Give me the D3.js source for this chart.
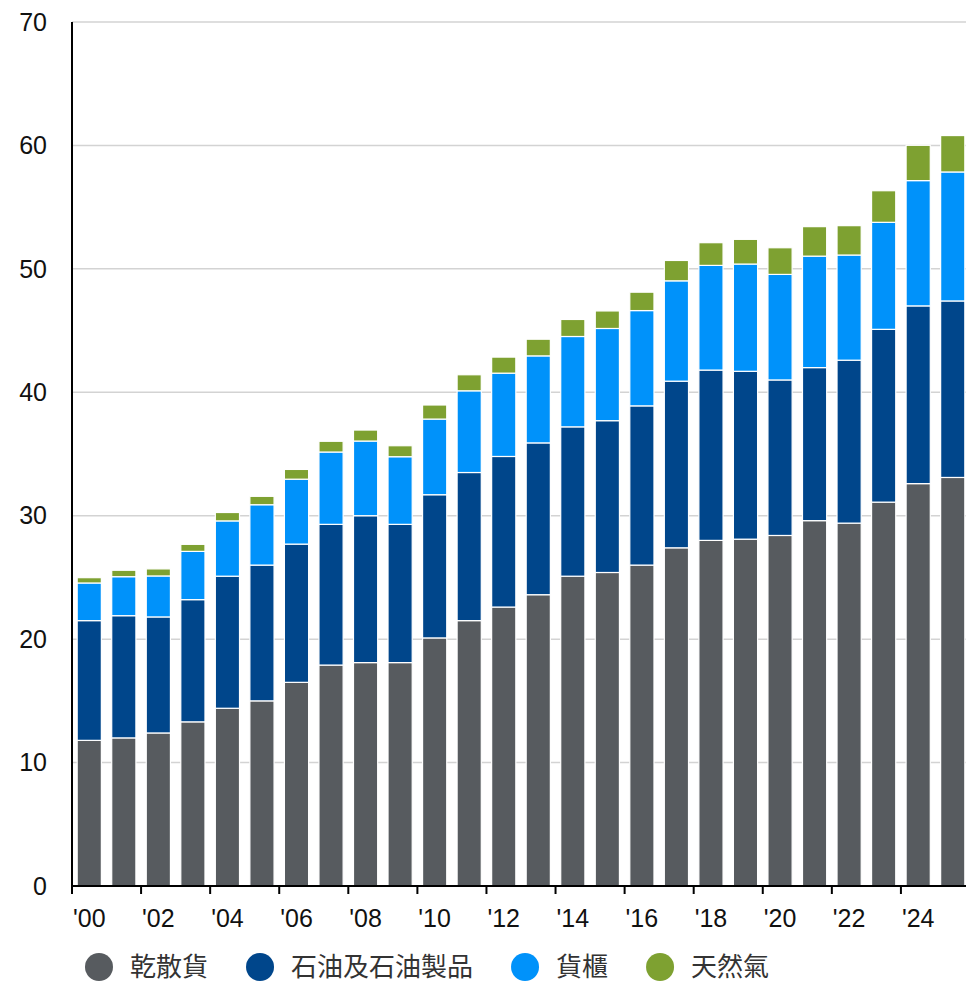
<!DOCTYPE html>
<html>
<head>
<meta charset="utf-8">
<script src="https://cdn.jsdelivr.net/npm/d3@7"></script>
<style>
  html, body { margin: 0; padding: 0; background: #fff; }
  svg { display: block; }
</style>
</head>
<body>
<svg id="chart" width="966" height="982"></svg>
<script>
const years = [2000,2001,2002,2003,2004,2005,2006,2007,2008,2009,2010,2011,2012,2013,2014,2015,2016,2017,2018,2019,2020,2021,2022,2023,2024,2025];
const dryBulk   = [11.8,12.0,12.4,13.3,14.4,15.0,16.5,17.9,18.1,18.1,20.1,21.5,22.6,23.6,25.1,25.4,26.0,27.4,28.0,28.1,28.4,29.6,29.4,31.1,32.6,33.1];
const oil       = [9.7,9.9,9.4,9.9,10.7,11.0,11.2,11.4,11.9,11.2,11.6,12.0,12.2,12.3,12.1,12.3,12.9,13.5,13.8,13.6,12.6,12.4,13.2,14.0,14.4,14.3];
const container = [3.05,3.16,3.32,3.91,4.48,4.89,5.26,5.86,6.05,5.48,6.13,6.62,6.75,7.05,7.32,7.47,7.72,8.13,8.48,8.69,8.55,9.03,8.52,8.67,10.15,10.45];
const gas       = [0.43,0.52,0.57,0.57,0.68,0.68,0.79,0.87,0.89,0.89,1.14,1.30,1.30,1.35,1.38,1.42,1.49,1.65,1.84,2.0,2.16,2.39,2.38,2.56,2.86,2.95];
const seriesKeys   = ["dry","oil","container","gas"];
const seriesNames  = ["乾散貨","石油及石油製品","貨櫃","天然氣"];
const seriesColors = ["#575b5f","#00468b","#0092fa","#7ea131"];
const yTicks = [0,10,20,30,40,50,60,70];
const xTickYears = [2000,2002,2004,2006,2008,2010,2012,2014,2016,2018,2020,2022,2024];

(function () {
const table = years.map((yr, i) => ({year: yr, dry: dryBulk[i], oil: oil[i], container: container[i], gas: gas[i]}));

const svg = d3.select("#chart");
const pLeft = 72, pRight = 970, pTop = 22, pBottom = 886;

const x = d3.scaleBand().domain(years).range([pLeft, pRight]).paddingInner(0.3).paddingOuter(0.15);
const y = d3.scaleLinear().domain([0, 70]).range([pBottom, pTop]);

const fontLatin = "Arial, 'Liberation Sans', sans-serif";
const fontCJK = "'Noto Sans CJK TC', 'Noto Sans CJK SC', sans-serif";

// gridlines
svg.append("g").selectAll("line").data(yTicks.filter(d => d > 0)).join("line")
  .attr("x1", pLeft).attr("x2", 966)
  .attr("y1", d => y(d)).attr("y2", d => y(d))
  .attr("stroke", "#d3d3d3").attr("stroke-width", 1.5);

// stacked bars
const stack = d3.stack().keys(seriesKeys)(table);
svg.append("g").selectAll("g").data(stack).join("g")
  .attr("fill", (d, i) => seriesColors[i])
  .selectAll("rect").data(d => d).join("rect")
  .attr("x", d => x(d.data.year))
  .attr("width", x.bandwidth())
  .attr("y", d => y(d[1]))
  .attr("height", d => y(d[0]) - y(d[1]))
  .attr("stroke", "#fff").attr("stroke-width", 1.2);

// y axis labels
svg.append("g").selectAll("text").data(yTicks).join("text")
  .attr("x", 47).attr("y", d => y(d))
  .attr("dy", "0.35em")
  .attr("text-anchor", "end")
  .attr("font-family", fontLatin).attr("font-size", 25)
  .attr("fill", "#111")
  .text(d => d);

// axes lines
svg.append("line").attr("x1", pLeft).attr("x2", pLeft).attr("y1", pTop).attr("y2", pBottom + 1)
  .attr("stroke", "#000").attr("stroke-width", 2);
svg.append("line").attr("x1", pLeft - 1).attr("x2", 966).attr("y1", pBottom).attr("y2", pBottom)
  .attr("stroke", "#000").attr("stroke-width", 2);

// x ticks at band starts, labels at band centers
const step = x.step();
const bandStart = yr => pLeft + years.indexOf(yr) * step;
const xt = svg.append("g");
xt.selectAll("line").data(xTickYears).join("line")
  .attr("x1", d => bandStart(d)).attr("x2", d => bandStart(d))
  .attr("y1", pBottom).attr("y2", pBottom + 8)
  .attr("stroke", "#000").attr("stroke-width", 2);
xt.selectAll("text").data(xTickYears).join("text")
  .attr("x", d => bandStart(d) + step / 2)
  .attr("y", 927)
  .attr("text-anchor", "middle")
  .attr("font-family", fontLatin).attr("font-size", 25)
  .attr("fill", "#111")
  .text(d => "'" + String(d).slice(2));

// legend
const lg = svg.append("g");
let cx = 99;
seriesNames.forEach((name, i) => {
  lg.append("circle").attr("cx", cx).attr("cy", 967).attr("r", 14).attr("fill", seriesColors[i]);
  const t = lg.append("text").attr("x", cx + 31).attr("y", 967).attr("dy", "0.36em")
    .attr("font-family", fontCJK).attr("font-size", 26).attr("fill", "#333")
    .text(name);
  const w = t.node().getComputedTextLength();
  cx = cx + 31 + w + 52;
});
})();
</script>
</body>
</html>
